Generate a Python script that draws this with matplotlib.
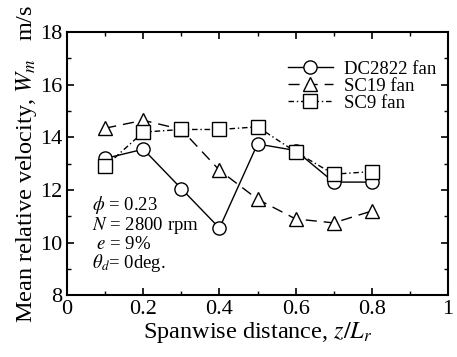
import matplotlib
matplotlib.use("Agg")
import matplotlib.pyplot as plt
from matplotlib.ticker import MultipleLocator

plt.rcParams['font.family'] = ['Liberation Serif', 'DejaVu Serif']
plt.rcParams['mathtext.fontset'] = 'stix'

# spanwise positions z/Lr
span = [0.1, 0.2, 0.3, 0.4, 0.5, 0.6, 0.7, 0.8]

# mean relative velocity (m/s)
dc2822 = [13.2, 13.55, 12.05, 10.55, 13.75, 13.5, 12.3, 12.3]
sc19 = [14.35, 14.65, 14.3, 12.75, 11.65, 10.9, 10.75, 11.2]
sc9 = [12.9, 14.2, 14.3, 14.3, 14.4, 13.45, 12.6, 12.7]

series_names = ["DC2822 fan", "SC19 fan", "SC9 fan"]

fig, ax = plt.subplots(figsize=(4.57, 3.57), dpi=100)
fig.subplots_adjust(left=0.147, right=0.98, top=0.91, bottom=0.173)

mk = dict(color='black', markerfacecolor='white', markeredgecolor='black',
          markersize=9.5, markeredgewidth=1.0, linewidth=1.0)

ax.plot(span, dc2822, linestyle='-', marker='o', label=series_names[0], zorder=3, **mk)
ax.plot(span, sc19, linestyle=(0, (8, 5)), marker='^', label=series_names[1], zorder=2, **mk)
ax.plot(span, sc9, linestyle=(0, (4, 2, 1, 2)), marker='s', label=series_names[2], zorder=4, **mk)

ax.set_xlim(0, 1)
ax.set_ylim(8, 18)
ax.xaxis.set_minor_locator(MultipleLocator(0.1))
ax.yaxis.set_major_locator(MultipleLocator(2))
ax.yaxis.set_minor_locator(MultipleLocator(1))
ax.set_xticks([0, 0.2, 0.4, 0.6, 0.8, 1.0])
ax.set_xticklabels(['0', '0.2', '0.4', '0.6', '0.8', '1'])

ax.tick_params(which='both', direction='in', top=True, right=True, labelsize=16)
ax.tick_params(which='major', length=5, width=1.2)
ax.tick_params(which='minor', length=3, width=1.0)
for s in ax.spines.values():
    s.set_linewidth(1.5)

ax.set_xlabel(r'Spanwise distance, $z/L_r$', fontsize=17.5, labelpad=1)
ax.set_ylabel(r'Mean relative velocity, $W_m$   m/s', fontsize=17.5, labelpad=1)

leg = ax.legend(loc='upper right', bbox_to_anchor=(1.0, 0.935), frameon=False,
                fontsize=13.5, handlelength=2.4, handletextpad=0.6,
                labelspacing=0.0, borderaxespad=0.2)

ax.text(0.065, 0.385,
        '$\\phi$ = 0.23\n$N$ = 2800 rpm\n $e$ = 9%\n$\\theta_d$= 0deg.',
        transform=ax.transAxes, fontsize=13.5, va='top', ha='left',
        linespacing=0.95)

fig.savefig('out.png', dpi=100)
